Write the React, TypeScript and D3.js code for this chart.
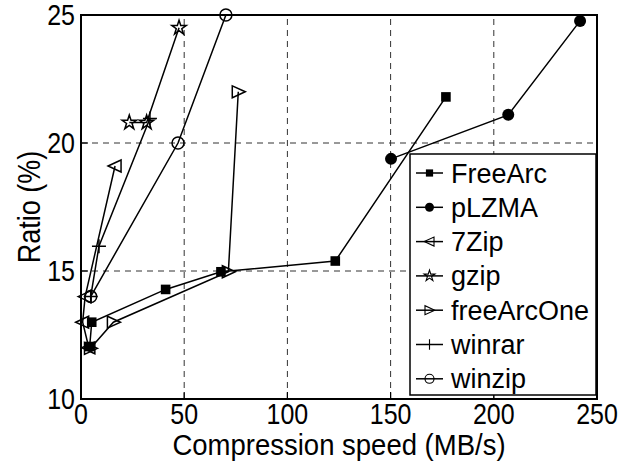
import React, { useEffect, useRef } from 'react';
import * as d3 from 'd3';

// Series (speed in MB/s, ratio in %)
const seriesNames = ['FreeArc', 'pLZMA', '7Zip', 'gzip', 'freeArcOne', 'winrar', 'winzip'];
const freeArcX = [4.2, 5.2, 41, 67.8, 123.2, 176.8];
const freeArcY = [12.05, 13.0, 14.28, 14.97, 15.39, 21.8];
const pLZMAX = [150.2, 207, 241.8];
const pLZMAY = [19.38, 21.1, 24.77];
const sevenZipX = [3.8, 0.8, 2, 16.5];
const sevenZipY = [12, 13, 14, 19.1];
const gzipX = [23.4, 31.8, 47.5];
const gzipY = [20.8, 20.8, 24.5];
const freeArcOneX = [4.6, 15.7, 71.4, 76.2];
const freeArcOneY = [11.98, 13.0, 14.97, 22.0];
const winrarX = [4.7, 8.7, 33.4];
const winrarY = [14, 15.97, 20.96];
const winzipX = [4.7, 47, 70.2];
const winzipY = [14, 20, 25];

const xTicks = [0, 50, 100, 150, 200, 250];
const yTicks = [10, 15, 20, 25];
const xGrid = [50, 100, 150, 200];
const yGrid = [15, 20];

const seriesX = [freeArcX, pLZMAX, sevenZipX, gzipX, freeArcOneX, winrarX, winzipX];
const seriesY = [freeArcY, pLZMAY, sevenZipY, gzipY, freeArcOneY, winrarY, winzipY];
const markers = ['square', 'dot', 'triLeft', 'star', 'triRight', 'plus', 'circle'];

const font = 'Liberation Sans, Arial, Helvetica, sans-serif';

// draw one marker at (cx, cy), k scales it down for the legend
function drawMarker(g: any, type: string, cx: number, cy: number, k: number) {
  const m = g.append('g').attr('transform', `translate(${cx},${cy}) scale(${k})`);
  if (type === 'square') {
    m.append('rect').attr('x', -4.8).attr('y', -4.8).attr('width', 9.6).attr('height', 9.6).attr('fill', '#000');
  } else if (type === 'dot') {
    m.append('circle').attr('r', 6).attr('fill', '#000');
  } else if (type === 'circle') {
    m.append('circle').attr('r', 6).attr('fill', 'none').attr('stroke', '#000').attr('stroke-width', 1.5);
  } else if (type === 'triLeft') {
    m.append('path').attr('d', 'M-7,0L6,-6L6,6Z').attr('fill', 'none').attr('stroke', '#000').attr('stroke-width', 1.5);
  } else if (type === 'triRight') {
    m.append('path').attr('d', 'M7,0L-6,-6L-6,6Z').attr('fill', 'none').attr('stroke', '#000').attr('stroke-width', 1.5);
  } else if (type === 'star') {
    m.append('path').attr('d', d3.symbol().type(d3.symbolStar).size(65)()).attr('fill', 'none').attr('stroke', '#000').attr('stroke-width', 1.5);
  } else if (type === 'plus') {
    m.append('path').attr('d', 'M-7,0H7M0,-7V7').attr('fill', 'none').attr('stroke', '#000').attr('stroke-width', 1.5);
  }
}

const App = () => {
  const ref = useRef<SVGSVGElement>(null);

  useEffect(() => {
    const width = 620;
    const height = 461;
    const svg = d3.select(ref.current);
    svg.selectAll('*').remove();
    svg.attr('width', width).attr('height', height);

    const x = d3.scaleLinear().domain([0, 250]).range([81, 597]);
    const y = d3.scaleLinear().domain([10, 25]).range([399, 15]);

    svg.append('rect').attr('width', width).attr('height', height).attr('fill', '#fff');

    // dashed grid
    svg.selectAll('.gx').data(xGrid).enter().append('line')
      .attr('x1', (d) => x(d)).attr('x2', (d) => x(d))
      .attr('y1', y(10)).attr('y2', y(25))
      .attr('stroke', '#333').attr('stroke-width', 1).attr('stroke-dasharray', '6,5');
    svg.selectAll('.gy').data(yGrid).enter().append('line')
      .attr('x1', x(0)).attr('x2', x(250))
      .attr('y1', (d) => y(d)).attr('y2', (d) => y(d))
      .attr('stroke', '#333').attr('stroke-width', 1).attr('stroke-dasharray', '6,5');

    // inner ticks
    svg.selectAll('.tx').data(xTicks).enter().append('line')
      .attr('x1', (d) => x(d)).attr('x2', (d) => x(d))
      .attr('y1', y(10)).attr('y2', y(10) - 7)
      .attr('stroke', '#000').attr('stroke-width', 1.2);
    svg.selectAll('.ty').data(yTicks).enter().append('line')
      .attr('x1', x(0)).attr('x2', x(0) + 7)
      .attr('y1', (d) => y(d)).attr('y2', (d) => y(d))
      .attr('stroke', '#000').attr('stroke-width', 1.2);

    // series
    const line = d3.line<number[]>().x((d) => x(d[0])).y((d) => y(d[1]));
    seriesNames.forEach((name, i) => {
      const pts = seriesX[i].map((v, j) => [v, seriesY[i][j]]);
      svg.append('path').attr('d', line(pts)).attr('fill', 'none')
        .attr('stroke', '#000').attr('stroke-width', 1.5);
    });
    seriesNames.forEach((name, i) => {
      const g = svg.append('g');
      seriesX[i].forEach((v, j) => drawMarker(g, markers[i], x(v), y(seriesY[i][j]), 1));
    });

    // frame
    svg.append('rect')
      .attr('x', x(0)).attr('y', y(25))
      .attr('width', x(250) - x(0)).attr('height', y(10) - y(25))
      .attr('fill', 'none').attr('stroke', '#000').attr('stroke-width', 2);

    // tick labels (the original font is a bit taller than it is wide)
    svg.selectAll('.lx').data(xTicks).enter().append('text')
      .attr('transform', (d) => `translate(${x(d)},423.5) scale(1,1.15)`)
      .attr('text-anchor', 'middle').attr('font-family', font).attr('font-size', 25)
      .text((d) => d);
    svg.selectAll('.ly').data(yTicks).enter().append('text')
      .attr('transform', (d) => `translate(75,${y(d) + 10.3}) scale(1,1.15)`)
      .attr('text-anchor', 'end').attr('font-family', font).attr('font-size', 25)
      .text((d) => d);

    // axis titles
    svg.append('text')
      .attr('transform', 'translate(339,455) scale(1,1.05)')
      .attr('text-anchor', 'middle').attr('font-family', font).attr('font-size', 27.5)
      .text('Compression speed (MB/s)');
    svg.append('text')
      .attr('transform', `translate(40,${y(17.5)}) rotate(-90) scale(1,1.15)`)
      .attr('text-anchor', 'middle').attr('font-family', font).attr('font-size', 27)
      .text('Ratio (%)');

    // legend
    const lg = svg.append('g');
    lg.append('rect').attr('x', 410).attr('y', 154).attr('width', 186).attr('height', 241)
      .attr('fill', '#fff').attr('stroke', '#000').attr('stroke-width', 1.5);
    seriesNames.forEach((name, i) => {
      const ly = 173 + i * 34.3;
      lg.append('line').attr('x1', 416).attr('x2', 443).attr('y1', ly).attr('y2', ly)
        .attr('stroke', '#000').attr('stroke-width', 1.5);
      drawMarker(lg, markers[i], 429.5, ly, 0.75);
      lg.append('text').attr('x', 451).attr('y', ly + 9.5)
        .attr('font-family', font).attr('font-size', 27).text(name);
    });
  }, []);

  return <svg ref={ref} style={{ position: 'absolute', left: 0, top: 0 }}></svg>;
};

export default App;
